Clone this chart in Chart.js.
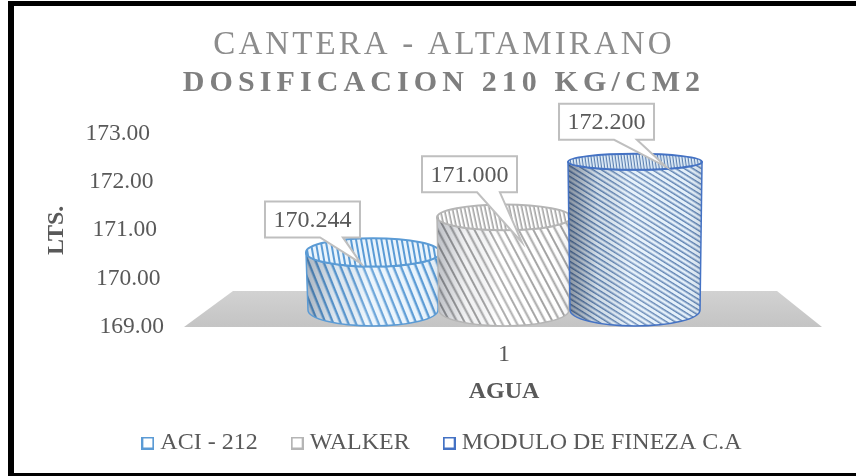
<!DOCTYPE html>
<html><head><meta charset="utf-8">
<style>html,body{margin:0;padding:0;background:#fff}#w{width:856px;height:476px;position:relative}canvas{display:block}</style>
<script src="https://cdn.jsdelivr.net/npm/chart.js@4/dist/chart.umd.min.js"></script>
</head><body><div id="w"><canvas id="c" width="856" height="476"></canvas></div>
<script>
const categories = ['1'];
const seriesNames = ['ACI - 212', 'WALKER', 'MODULO DE FINEZA C.A'];
const aci212 = [170.244];
const walker = [171.000];
const moduloFineza = [172.200];
const yTicks = [169, 170, 171, 172, 173];

const SERIF = '"Liberation Serif"';
const GREY = '#595959';
const looks = [
  {line:'#5b9bd5', base:'#eaf4fc', stripe:'#5b9bd5', pitch:7, angle:68, topPitch:5, topAngle:80, shade:.30, stripeW:2.4, tip:[-12,11], box:[-108,-51]},
  {line:'#b5b5b5', base:'#ffffff', stripe:'#a3a3a3', pitch:6.5, angle:62, topPitch:4, topAngle:78, shade:.28, stripeW:2, tip:[18,25], box:[-82,-61]},
  {line:'#4472c4', base:'#e4f0fa', stripe:'#5a7fb0', pitch:4.6, angle:32, topPitch:3, topAngle:82, shade:.45, stripeW:1.5, tip:[31,5], box:[-76,-58]}
];

function stripes(ctx, color, base, pitch, width, angle) {
  const t = document.createElement('canvas');
  t.width = 32; t.height = Math.round(pitch * 4);
  const g = t.getContext('2d');
  g.fillStyle = base; g.fillRect(0,0,t.width,t.height);
  g.fillStyle = color;
  for (let i = 0; i < 4; i++) g.fillRect(0, i * t.height / 4, t.width, width);
  const p = ctx.createPattern(t, 'repeat');
  p.setTransform(new DOMMatrix().rotate(angle));
  return p;
}
function ryAt(y){ return 8 + Math.sqrt(Math.max(0, y - 163)) * 0.66; }

function shifted(box, dx, spacing) {
  const d = box.draw;
  box.draw = function(a){ const c = box.ctx; c.save(); c.translate(dx,0); if (spacing) c.letterSpacing = spacing; d.call(this,a); c.restore(); };
}
const stage = {
  id: 'stage',
  afterLayout(chart) {
    const P = chart.options.plugins;
    chart.boxes.forEach(b => {
      if (b._sp || !b.options) return;
      if (b.options.text === P.title.text) { b._sp = 1; shifted(b, 12, '3.1px'); }
      else if (b.options.text === P.subtitle.text) { b._sp = 1; shifted(b, 12, '5.1px'); }
      else if (b === chart.legend) { b._sp = 1; shifted(b, 12.5, ''); }
    });
  },
  beforeDraw(chart) {
    // receding axis: tick labels step left as the value rises
    const y = chart.scales.y;
    y.getLabelItems(chart.chartArea).forEach((it,i) => {
      if (!it._moved) { it._moved = 1; it.options.translation[0] -= (y.ticks[i].value - 169) * 3.5; }
    });
  },
  beforeDatasetsDraw(chart) {
    const {ctx, chartArea:{left,right,bottom}} = chart;
    ctx.save();
    const gr = ctx.createLinearGradient(0,bottom-37,0,bottom);
    gr.addColorStop(0,'#d2d2d2'); gr.addColorStop(1,'#c4c4c4');
    ctx.fillStyle = gr;
    ctx.beginPath();
    ctx.moveTo(left-2,bottom); ctx.lineTo(left+47,bottom-36); ctx.lineTo(right-45,bottom-36); ctx.lineTo(right,bottom);
    ctx.closePath(); ctx.fill();
    ctx.restore();
  },
  afterDatasetsDraw(chart) {
    const {ctx, chartArea:{bottom}} = chart;
    const bars = chart.data.datasets.map((d,i) => chart.getDatasetMeta(i).data[0]);
    bars.forEach((bar,i) => {
      const L = looks[i];
      const cx = bar.x, rx = bar.width/2 + 1.5;
      const yB = bottom - 17;
      const yT = yB - (bottom - bar.y) * 0.958;
      const rT = ryAt(yT), rB = ryAt(yB);
      ctx.save();
      const body = new Path2D();
      body.moveTo(cx-rx,yT);
      body.lineTo(cx-rx+2,yB);
      body.ellipse(cx,yB,rx-2,rB,0,Math.PI,0,true);
      body.lineTo(cx+rx,yT);
      body.ellipse(cx,yT,rx,rT,0,0,Math.PI,false);
      body.closePath();
      ctx.fillStyle = stripes(ctx,L.stripe,L.base,L.pitch,L.stripeW,L.angle);
      ctx.fill(body);
      const sh = ctx.createLinearGradient(cx-rx,0,cx+rx,0);
      sh.addColorStop(0,`rgba(20,30,50,${L.shade})`);
      sh.addColorStop(.22,`rgba(20,30,50,${L.shade*.2})`);
      sh.addColorStop(.45,'rgba(255,255,255,.15)');
      sh.addColorStop(.85,'rgba(255,255,255,0)');
      sh.addColorStop(1,`rgba(20,30,50,${L.shade*.25})`);
      ctx.fillStyle = sh; ctx.fill(body);
      ctx.strokeStyle = L.line; ctx.lineWidth = 1.5;
      ctx.stroke(body);
      const top = new Path2D();
      top.ellipse(cx,yT,rx,rT,0,0,Math.PI*2);
      ctx.fillStyle = stripes(ctx,L.stripe,L.base,L.topPitch,L.topPitch*.4,L.topAngle);
      ctx.fill(top);
      ctx.lineWidth = 2; ctx.stroke(top);
      ctx.restore();
    });
    bars.forEach((bar,i) => {
      const L = looks[i];
      const yB = bottom - 17;
      const yT = yB - (bottom - bar.y) * 0.958;
      const bw = 95, bh = 36;
      const bx = bar.x + L.box[0], by = yT + L.box[1];
      const tx = bar.x + L.tip[0], ty = yT + L.tip[1];
      const wedgeL = bx + bw*0.58, wedgeR = bx + bw*0.82;
      ctx.save();
      ctx.fillStyle = '#fff'; ctx.strokeStyle = '#bfbfbf'; ctx.lineWidth = 2;
      ctx.beginPath();
      ctx.moveTo(bx,by); ctx.lineTo(bx+bw,by); ctx.lineTo(bx+bw,by+bh);
      ctx.lineTo(wedgeR,by+bh); ctx.lineTo(tx,ty); ctx.lineTo(wedgeL,by+bh);
      ctx.lineTo(bx,by+bh); ctx.closePath();
      ctx.fill(); ctx.stroke();
      ctx.fillStyle = GREY; ctx.font = `24px ${SERIF}`;
      ctx.textAlign = 'center'; ctx.textBaseline = 'middle';
      ctx.fillText(chart.data.datasets[i].data[0].toFixed(3), bx+bw/2, by+bh/2+1);
      ctx.restore();
    });
  },
  afterDraw(chart) {
    const {ctx,height} = chart;
    ctx.save(); ctx.fillStyle = '#000';
    ctx.fillRect(8,1,848,5);
    ctx.fillRect(8,1,6,height-1);
    ctx.fillRect(8,height-3,848,3);
    ctx.restore();
  }
};

function legendIcon(color) {
  const t = document.createElement('canvas');
  t.width = 13; t.height = 13;
  const g = t.getContext('2d');
  g.strokeStyle = color; g.lineWidth = 2; g.strokeRect(1,1,11,11);
  return t;
}
const datasets = [aci212, walker, moduloFineza].map((d,i) => ({
  label: seriesNames[i], data: d,
  backgroundColor: 'rgba(0,0,0,0)', borderWidth: 0,
  categoryPercentage: .618, barPercentage: 1
}));

new Chart(document.getElementById('c'), {
  type: 'bar',
  data: { labels: categories, datasets },
  plugins: [stage],
  options: {
    responsive: false, animation: false,
    layout: { padding: { top: 20, right: 34, bottom: 11, left: 42 } },
    plugins: {
      tooltip: {enabled:false},
      title: { display:true, text:'CANTERA - ALTAMIRANO', color:'#8c8c8c',
        font:{family:SERIF,size:33,weight:'normal'}, padding:{top:6,bottom:0} },
      subtitle: { display:true, text:'DOSIFICACION 210 KG/CM2', color:'#7f7f7f',
        font:{family:SERIF,size:30,weight:'bold'}, padding:{top:0,bottom:32} },
      legend: { position:'bottom',
        labels: { color:GREY, font:{family:SERIF,size:24}, usePointStyle:true, pointStyleWidth:1, boxHeight:13, padding:39,
          generateLabels: () => seriesNames.map((n,i) => ({text:n, pointStyle:legendIcon(looks[i].line), fontColor:GREY, lineWidth:0, datasetIndex:i})) } }
    },
    scales: {
      x: { grid:{display:false}, border:{display:false},
        afterFit(s){ s.height = 65; },
        ticks:{color:GREY,font:{family:SERIF,size:24},padding:5},
        title:{display:true,text:'AGUA',color:GREY,font:{family:SERIF,size:24,weight:'bold'},padding:{top:8,bottom:-14}} },
      y: { min:169, max:173, grid:{display:false}, border:{display:false},
        afterFit(s){ s.width = 144; },
        afterBuildTicks(a){ a.ticks = yTicks.map(v => ({value:v})); },
        ticks:{color:GREY,font:{family:SERIF,size:23.5},padding:14,callback:v => v.toFixed(2)},
        title:{display:true,text:'LTS.',color:GREY,font:{family:SERIF,size:24,weight:'bold'},padding:{top:0,bottom:0}} }
    }
  }
});
</script></body></html>
